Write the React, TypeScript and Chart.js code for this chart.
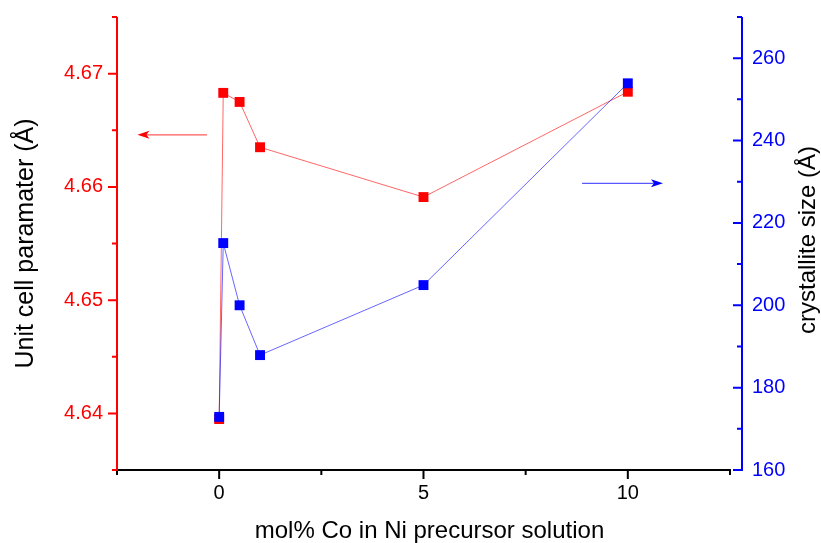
import React, { useEffect, useRef } from 'react';
import { Chart, registerables } from 'chart.js';

Chart.register(...registerables);

const W = 821;
const H = 543;
const FONT = "Arial, 'Liberation Sans', sans-serif";

// ---- data ----
const xValues = [0, 0.1, 0.5, 1, 5, 10];
const unitCell = [4.6395, 4.6683, 4.6675, 4.6635, 4.6591, 4.6684];
const crystalliteSize = [172.9, 215.1, 200.0, 187.9, 204.9, 253.9];

// ---- axes / ticks ----
const xMajorTicks = [0, 5, 10];
const xMinorTicks = [-2.5, 2.5, 7.5, 12.5];
const xAxisStart = -2.5;
const xAxisEnd = 12.5;
const xScaleMax = 12.794;
const leftMajorTicks = [4.64, 4.65, 4.66, 4.67];
const leftMinorTicks = [4.635, 4.645, 4.655, 4.665, 4.675];
const rightMajorTicks = [160, 180, 200, 220, 240, 260];
const rightMinorTicks = [170, 190, 210, 230, 250, 270];

// ---- annotation arrows ----
const redArrowX = [-0.3, -2.0];
const redArrowY = 4.6646;
const blueArrowX = [8.88, 10.86];
const blueArrowY = 229.6;

const RED = '#ff0000';
const BLUE = '#0000ff';

function drawArrow(ctx: CanvasRenderingContext2D, x1: number, x2: number, y: number, color: string, lineColor: string) {
  const dir = x2 > x1 ? 1 : -1;
  const headLen = 12;
  const half = 4;
  ctx.strokeStyle = lineColor;
  ctx.lineWidth = 1.2;
  ctx.beginPath();
  ctx.moveTo(x1, y);
  ctx.lineTo(x2 - dir * headLen * 0.6, y);
  ctx.stroke();
  ctx.fillStyle = color;
  ctx.beginPath();
  ctx.moveTo(x2, y);
  ctx.lineTo(x2 - dir * headLen, y - half);
  ctx.lineTo(x2 - dir * headLen * 0.75, y);
  ctx.lineTo(x2 - dir * headLen, y + half);
  ctx.closePath();
  ctx.fill();
}

const customAxes = {
  id: 'customAxes',
  afterDatasetsDraw(chart: any) {
    const { ctx, chartArea: ca, scales } = chart;
    const x = scales.x;
    const yL = scales.yL;
    const yR = scales.yR;
    ctx.save();

    // arrows
    drawArrow(ctx, x.getPixelForValue(redArrowX[0]), x.getPixelForValue(redArrowX[1]), yL.getPixelForValue(redArrowY), RED, 'rgba(255,0,0,0.65)');
    drawArrow(ctx, x.getPixelForValue(blueArrowX[0]), x.getPixelForValue(blueArrowX[1]), yR.getPixelForValue(blueArrowY), BLUE, 'rgba(0,0,255,0.65)');

    const major = 9;
    const minor = 5;
    ctx.lineWidth = 2;

    // bottom axis
    ctx.strokeStyle = '#000';
    const xa = x.getPixelForValue(xAxisStart);
    const xb = x.getPixelForValue(xAxisEnd);
    const yb = ca.bottom;
    ctx.beginPath();
    ctx.moveTo(xa, yb);
    ctx.lineTo(xb + 1, yb);
    xMajorTicks.forEach((v) => {
      const p = x.getPixelForValue(v);
      ctx.moveTo(p, yb);
      ctx.lineTo(p, yb + major);
    });
    xMinorTicks.forEach((v) => {
      const p = x.getPixelForValue(v);
      ctx.moveTo(p, yb);
      ctx.lineTo(p, yb + minor);
    });
    ctx.stroke();

    // left axis
    ctx.strokeStyle = RED;
    const xl = ca.left;
    ctx.beginPath();
    ctx.moveTo(xl, ca.top);
    ctx.lineTo(xl, ca.bottom + 1);
    leftMajorTicks.forEach((v) => {
      const p = yL.getPixelForValue(v);
      ctx.moveTo(xl, p);
      ctx.lineTo(xl - major, p);
    });
    leftMinorTicks.forEach((v) => {
      const p = yL.getPixelForValue(v);
      ctx.moveTo(xl, p);
      ctx.lineTo(xl - minor, p);
    });
    ctx.stroke();

    // right axis
    ctx.strokeStyle = BLUE;
    const xr = ca.right;
    ctx.beginPath();
    ctx.moveTo(xr, ca.top);
    ctx.lineTo(xr, ca.bottom + 1);
    rightMajorTicks.forEach((v) => {
      const p = yR.getPixelForValue(v);
      ctx.moveTo(xr, p);
      ctx.lineTo(xr - major, p);
    });
    rightMinorTicks.forEach((v) => {
      const p = yR.getPixelForValue(v);
      ctx.moveTo(xr, p);
      ctx.lineTo(xr - minor, p);
    });
    ctx.stroke();

    // right axis title (reads bottom-to-top)
    ctx.fillStyle = '#000';
    ctx.font = `24px ${FONT}`;
    ctx.textAlign = 'center';
    ctx.textBaseline = 'middle';
    ctx.translate(808, 240);
    ctx.rotate(-Math.PI / 2);
    ctx.fillText('crystallite size (Å)', 0, 0);
    ctx.restore();
  },
};

export default function App() {
  const ref = useRef<HTMLCanvasElement>(null);

  useEffect(() => {
    document.body.style.margin = '0';
    const canvas = ref.current;
    if (!canvas) return;
    const chart = new Chart(canvas, {
      type: 'line',
      data: {
        datasets: [
          {
            label: 'crystallite size',
            data: xValues.map((x, i) => ({ x, y: crystalliteSize[i] })),
            yAxisID: 'yR',
            borderColor: 'rgba(0,0,255,0.6)',
            backgroundColor: BLUE,
            borderWidth: 1,
            pointStyle: 'rect',
            pointRadius: 7,
            pointBorderWidth: 0,
            pointBackgroundColor: BLUE,
            tension: 0,
            order: 0,
          },
          {
            label: 'unit cell parameter',
            data: xValues.map((x, i) => ({ x, y: unitCell[i] })),
            yAxisID: 'yL',
            borderColor: 'rgba(255,0,0,0.6)',
            backgroundColor: RED,
            borderWidth: 1,
            pointStyle: 'rect',
            pointRadius: 7,
            pointBorderWidth: 0,
            pointBackgroundColor: RED,
            tension: 0,
            order: 1,
          },
        ],
      },
      options: {
        animation: false,
        responsive: false,
        maintainAspectRatio: false,
        events: [],
        layout: { padding: { top: 17, left: 0, right: 0, bottom: 0 } },
        plugins: { legend: { display: false }, tooltip: { enabled: false } },
        scales: {
          x: {
            type: 'linear',
            min: xAxisStart,
            max: xScaleMax,
            grid: { display: false, drawTicks: false },
            border: { display: false },
            afterBuildTicks: (s: any) => {
              s.ticks = xMajorTicks.map((v) => ({ value: v }));
            },
            ticks: {
              color: '#000',
              font: { family: FONT, size: 20 },
              padding: 11,
              autoSkip: false,
              maxRotation: 0,
              callback: (v: any) => String(v),
            },
            title: {
              display: true,
              text: 'mol% Co in Ni precursor solution',
              color: '#000',
              font: { family: FONT, size: 24, lineHeight: 1 },
              padding: { top: 0, bottom: 0 },
            },
            afterFit: (s: any) => {
              s.height = 73;
              s.paddingLeft = 0;
              s.paddingRight = 0;
            },
          },
          yL: {
            type: 'linear',
            position: 'left',
            min: 4.635,
            max: 4.675,
            grid: { display: false, drawTicks: false },
            border: { display: false },
            afterBuildTicks: (s: any) => {
              s.ticks = leftMajorTicks.map((v) => ({ value: v }));
            },
            ticks: {
              color: RED,
              font: { family: FONT, size: 20 },
              padding: 14,
              autoSkip: false,
              callback: (v: any) => Number(v).toFixed(2),
            },
            title: {
              display: true,
              text: 'Unit cell paramater (Å)',
              color: '#000',
              font: { family: FONT, size: 25, lineHeight: 1 },
              padding: { top: 14, bottom: 0 },
            },
            afterFit: (s: any) => {
              s.width = 117;
              s.paddingTop = 0;
              s.paddingBottom = 0;
            },
          },
          yR: {
            type: 'linear',
            position: 'right',
            min: 160,
            max: 270,
            grid: { display: false, drawTicks: false },
            border: { display: false },
            afterBuildTicks: (s: any) => {
              s.ticks = rightMajorTicks.map((v) => ({ value: v }));
            },
            ticks: {
              color: BLUE,
              font: { family: FONT, size: 20 },
              padding: 10,
              autoSkip: false,
              callback: (v: any) => String(v),
            },
            afterFit: (s: any) => {
              s.width = 79;
              s.paddingTop = 0;
              s.paddingBottom = 0;
            },
          },
        },
      },
      plugins: [customAxes],
    });
    return () => chart.destroy();
  }, []);

  return (
    <div style={{ width: W, height: H, background: '#fff' }}>
      <canvas ref={ref} width={W} height={H} style={{ display: 'block', width: W, height: H }} />
    </div>
  );
}
